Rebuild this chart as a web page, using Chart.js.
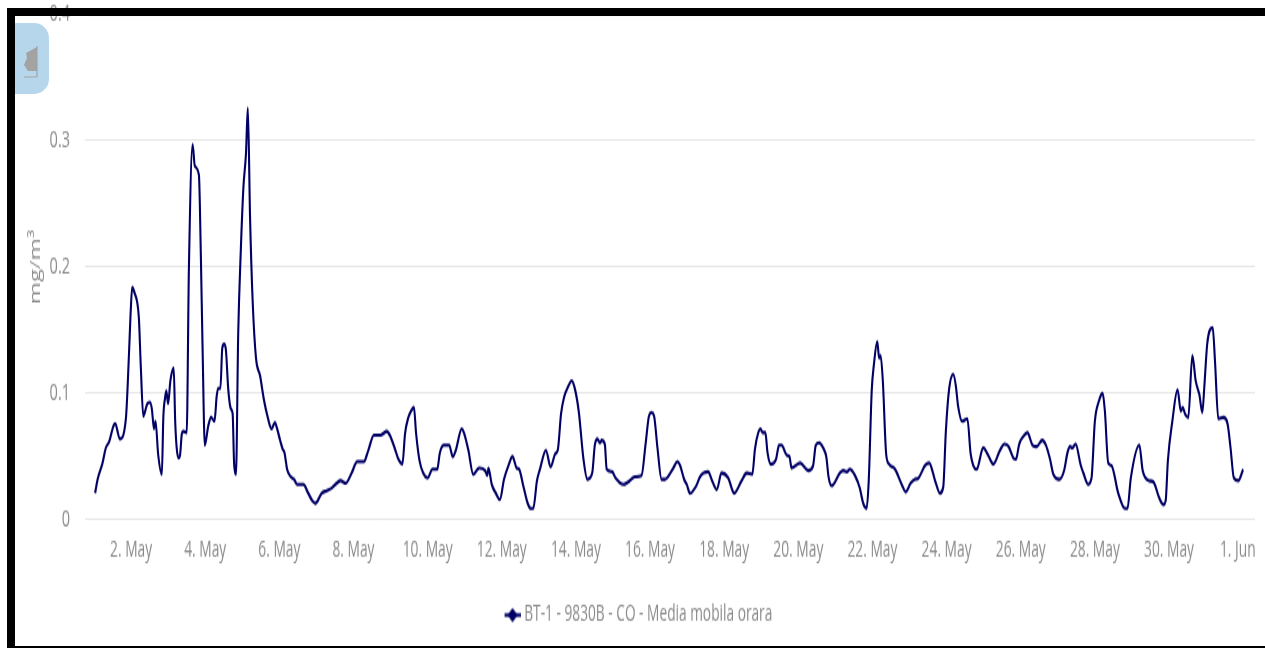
<!DOCTYPE html>
<html><head><meta charset="utf-8">
<style>
html,body{margin:0;padding:0;background:#fff;overflow:hidden;width:1265px;height:648px}
#wrap{position:absolute;left:0;top:0;width:1265px;height:405px;transform:scaleY(1.6);transform-origin:0 0}
canvas#c{display:block}
#frame{position:absolute;left:7px;top:8px;right:0;bottom:0;border-left:8px solid #000;border-top:8px solid #000;border-bottom:2px solid #000;box-sizing:border-box;pointer-events:none}
#btn{position:absolute;left:15px;top:23px;width:34px;height:71px;background:#b6d6ec;border-radius:0 15px 15px 0}
#btn svg{position:absolute;left:8px;top:21px}
</style></head><body>
<div id="wrap"><canvas id="c" width="1265" height="405"></canvas></div>
<div id="btn"><svg width="16" height="36" viewBox="0 0 16 36"><path d="M14 3V27H5L1 21L4 14L3 9Z" fill="#a3a3a3"/><path d="M14 2V33M1 33H14" stroke="#a3a3a3" stroke-width="1.2" fill="none"/></svg></div>
<div id="frame"></div>
<script src="https://cdn.jsdelivr.net/npm/chart.js@4"></script>
<script>
const seriesName = 'BT-1 - 9830B - CO - Media mobila orara';
const yTitle = 'mg/m³';
const xTickDays = [2,4,6,8,10,12,14,16,18,20,22,24,26,28,30,32];
const xTickLabels = ['2. May','4. May','6. May','8. May','10. May','12. May','14. May','16. May','18. May','20. May','22. May','24. May','26. May','28. May','30. May','1. Jun'];
const yTickValues = [0,0.1,0.2,0.3,0.4];
const yTickLabels = ['0','0.1','0.2','0.3','0.4'];
const days = [1.03,1.09,1.23,1.32,1.41,1.52,1.57,1.70,1.86,1.95,1.99,2.03,2.09,2.21,2.26,2.33,2.38,2.44,2.51,2.56,2.62,2.66,2.73,2.83,2.87,2.92,2.95,3.00,3.06,3.15,3.19,3.23,3.28,3.32,3.37,3.41,3.50,3.56,3.66,3.72,3.83,3.88,3.93,3.99,4.08,4.16,4.25,4.31,4.35,4.41,4.46,4.51,4.56,4.62,4.69,4.74,4.78,4.83,4.89,4.96,5.03,5.10,5.15,5.21,5.28,5.37,5.48,5.59,5.68,5.79,5.88,5.94,6.02,6.09,6.14,6.21,6.31,6.40,6.48,6.65,6.78,6.89,6.97,7.14,7.28,7.41,7.55,7.65,7.79,7.95,8.10,8.28,8.40,8.55,8.73,8.90,9.01,9.12,9.21,9.32,9.39,9.48,9.57,9.63,9.69,9.78,9.88,10.00,10.13,10.26,10.33,10.44,10.58,10.68,10.76,10.92,10.98,11.10,11.23,11.39,11.55,11.61,11.64,11.73,11.84,11.95,12.06,12.18,12.29,12.40,12.47,12.58,12.70,12.78,12.85,12.95,13.03,13.19,13.32,13.44,13.51,13.60,13.68,13.80,13.88,13.97,14.08,14.20,14.31,14.44,14.51,14.58,14.65,14.70,14.78,14.83,14.98,15.07,15.28,15.41,15.59,15.77,15.88,15.97,16.04,16.11,16.20,16.31,16.40,16.61,16.74,16.81,16.92,16.99,17.08,17.23,17.35,17.44,17.57,17.66,17.80,17.93,18.11,18.27,18.47,18.61,18.76,18.83,18.92,18.98,19.04,19.11,19.17,19.26,19.40,19.48,19.55,19.69,19.76,19.82,20.05,20.27,20.40,20.47,20.56,20.67,20.76,20.81,20.90,21.12,21.21,21.31,21.39,21.53,21.66,21.75,21.84,21.90,21.98,22.04,22.13,22.18,22.22,22.28,22.37,22.45,22.61,22.79,22.90,23.03,23.15,23.24,23.42,23.53,23.69,23.82,23.91,23.98,24.07,24.18,24.25,24.31,24.42,24.56,24.65,24.72,24.81,24.99,25.12,25.26,25.44,25.56,25.67,25.80,25.87,25.96,26.07,26.18,26.32,26.43,26.58,26.68,26.79,26.88,27.04,27.17,27.26,27.33,27.39,27.48,27.62,27.69,27.82,27.91,28.00,28.11,28.21,28.27,28.36,28.45,28.63,28.81,28.88,28.97,29.20,29.29,29.47,29.58,29.74,29.85,29.91,29.97,30.09,30.23,30.32,30.37,30.43,30.52,30.63,30.72,30.82,30.90,30.95,31.03,31.10,31.18,31.24,31.33,31.47,31.58,31.66,31.75,31.87,32.00];
const co = [.021,.031,.045,.057,.062,.074,.076,.064,.080,.136,.165,.184,.180,.160,.123,.082,.086,.092,.093,.088,.072,.078,.052,.036,.081,.097,.102,.092,.110,.120,.078,.057,.049,.051,.068,.070,.069,.199,.297,.280,.273,.213,.134,.059,.074,.081,.078,.098,.104,.104,.136,.139,.134,.104,.088,.084,.044,.036,.147,.213,.263,.290,.326,.239,.173,.128,.114,.094,.082,.072,.077,.072,.063,.056,.053,.040,.034,.032,.028,.028,.021,.015,.013,.021,.023,.025,.029,.031,.029,.037,.046,.046,.055,.067,.067,.070,.065,.056,.048,.044,.068,.081,.087,.089,.068,.047,.037,.033,.040,.040,.053,.059,.059,.050,.055,.072,.069,.055,.036,.041,.039,.035,.041,.028,.021,.016,.032,.043,.050,.041,.040,.027,.013,.009,.009,.031,.040,.055,.042,.052,.055,.084,.097,.106,.110,.104,.085,.049,.032,.037,.059,.064,.061,.063,.060,.040,.038,.033,.028,.030,.034,.035,.060,.082,.085,.082,.057,.032,.032,.040,.046,.043,.032,.028,.021,.026,.034,.037,.038,.032,.024,.037,.033,.021,.031,.037,.036,.056,.069,.072,.069,.069,.053,.044,.048,.059,.059,.051,.050,.041,.045,.039,.043,.059,.061,.057,.049,.035,.027,.037,.039,.038,.040,.035,.025,.013,.009,.031,.102,.123,.141,.128,.130,.110,.052,.044,.040,.028,.022,.029,.032,.033,.043,.045,.031,.021,.026,.070,.104,.115,.106,.090,.078,.080,.052,.043,.040,.057,.051,.044,.055,.060,.058,.049,.048,.060,.066,.069,.059,.058,.063,.059,.048,.036,.032,.039,.053,.058,.057,.060,.043,.037,.028,.033,.078,.094,.100,.086,.045,.043,.021,.009,.009,.033,.059,.039,.031,.030,.017,.012,.015,.047,.078,.103,.086,.089,.084,.081,.130,.110,.099,.085,.104,.139,.150,.152,.126,.080,.081,.076,.057,.033,.031,.040];

const marker = document.createElement('canvas');
marker.width = 20; marker.height = 9;
const mc = marker.getContext('2d');
mc.fillStyle = '#000066';
mc.fillRect(4,3.4,16,2.2);
mc.beginPath(); mc.moveTo(12,0); mc.lineTo(17,4.5); mc.lineTo(12,9); mc.lineTo(7,4.5); mc.closePath(); mc.fill();

const shiftLegend = {
  id:'shiftLegend',
  afterLayout(chart){
    const l = chart.legend;
    l.left += 10.5; l.right += 10.5;
    l.top -= 3.75; l.bottom -= 3.75;
  }
};

const FONT = '"Open Sans"';
new Chart(document.getElementById('c'), {
  type: 'line',
  plugins:[shiftLegend],
  data: { datasets: [{
    label: seriesName,
    data: days.map((d,i)=>({x:d,y:co[i]})),
    borderColor: '#000066', borderWidth: 2.1, pointRadius: 0,
    cubicInterpolationMode:'monotone',
    pointStyle: marker, backgroundColor:'#000066', fill:false
  }]},
  options: {
    responsive:false, animation:false, devicePixelRatio:1,
    layout:{padding:{left:0,right:10,top:9,bottom:0}},
    plugins:{
      tooltip:{enabled:false},
      legend:{position:'bottom',labels:{usePointStyle:true,color:'#8a8a8a',padding:14,font:{family:FONT,size:13.72}}}
    },
    scales:{
      x:{type:'linear',min:0.757,max:32.32,
        grid:{display:false},border:{display:false},
        afterBuildTicks:s=>{s.ticks=xTickDays.map(v=>({value:v}));},
        afterFit:s=>{s.paddingLeft=0;s.paddingRight=0;s.height=42.4;},
        ticks:{autoSkip:false,maxRotation:0,minRotation:0,padding:3.25,color:'#8a8a8a',font:{family:FONT,size:13.8},
          callback:(v)=>{const i=xTickDays.indexOf(v);const t=xTickLabels[i];return v===32?t+'\u00a0\u00a0\u00a0':t;}}
      },
      y:{type:'linear',min:0,max:0.4,
        grid:{color:'#e6e6e6',lineWidth:1,drawTicks:false},border:{display:false},
        afterBuildTicks:s=>{s.ticks=yTickValues.map(v=>({value:v}));},
        afterFit:s=>{s.width=85;s.paddingTop=0;s.paddingBottom=0;},
        title:{display:true,text:yTitle,color:'#8a8a8a',font:{family:FONT,size:15},padding:{top:27,bottom:0}},
        ticks:{padding:15,color:'#8a8a8a',font:{family:FONT,size:14.5},
          callback:(v)=>yTickLabels[yTickValues.indexOf(v)]}
      }
    }
  }
});
</script>
</body></html>
